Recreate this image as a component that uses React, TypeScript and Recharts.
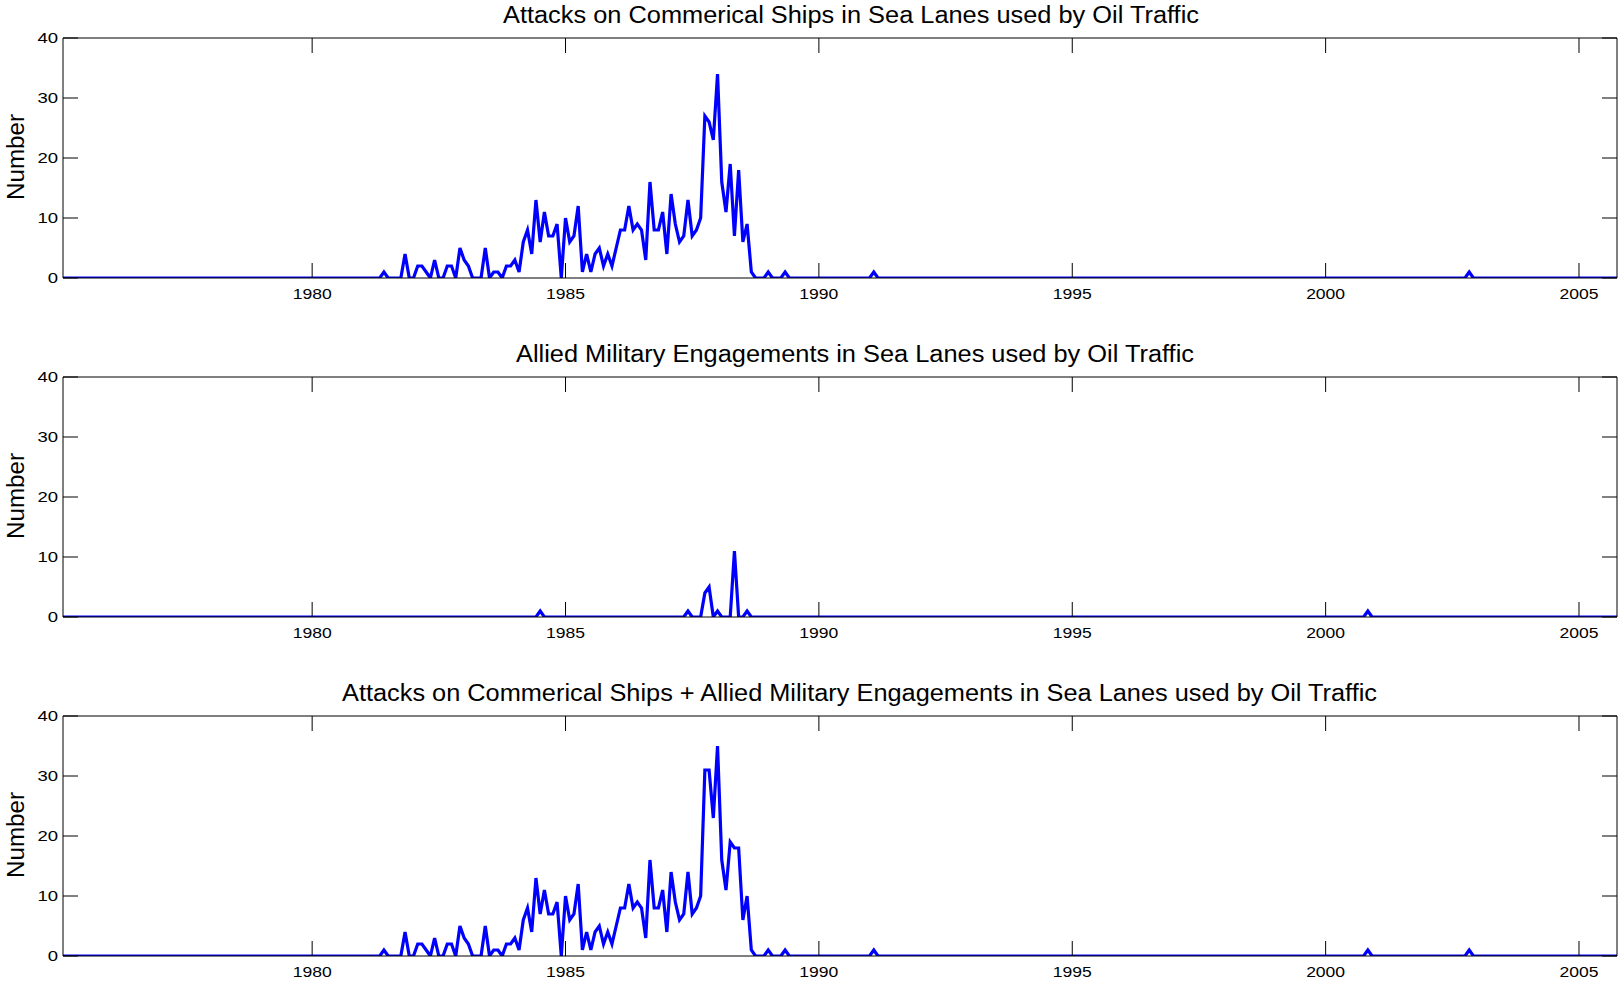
import { LineChart, Line, XAxis, YAxis } from 'recharts';

// monthly counts, Jan 1975 .. Sep 2005
const FIRST_YEAR = 1975;
const LAST_YEAR = 2005;
const LAST_MONTH = 9;

const X_TICKS = [1980, 1985, 1990, 1995, 2000, 2005];
const Y_TICKS = [0, 10, 20, 30, 40];

const attacksByYear: Record<number, number[]> = {
    1981: [0, 0, 0, 0, 1, 0, 0, 0, 0, 4, 0, 0],
    1982: [2, 2, 1, 0, 3, 0, 0, 2, 2, 0, 5, 3],
    1983: [2, 0, 0, 0, 5, 0, 1, 1, 0, 2, 2, 3],
    1984: [1, 6, 8, 4, 13, 6, 11, 7, 7, 9, 0, 10],
    1985: [6, 7, 12, 1, 4, 1, 4, 5, 2, 4, 2, 5],
    1986: [8, 8, 12, 8, 9, 8, 3, 16, 8, 8, 11, 4],
    1987: [14, 9, 6, 7, 13, 7, 8, 10, 27, 26, 23, 34],
    1988: [16, 11, 19, 7, 18, 6, 9, 1, 0, 0, 0, 1],
    1989: [0, 0, 0, 1, 0, 0, 0, 0, 0, 0, 0, 0],
};
const attacksOther: [string, number][] = [
    ['1991-01', 1],
    ['2002-10', 1],
];

const engagementsByYear: Record<number, number[]> = {};
const engagementsOther: [string, number][] = [
    ['1984-06', 1],
    ['1987-05', 1],
    ['1987-09', 4],
    ['1987-10', 5],
    ['1987-12', 1],
    ['1988-04', 11],
    ['1988-07', 1],
    ['2000-10', 1],
];

const combinedByYear: Record<number, number[]> = {
    1981: [0, 0, 0, 0, 1, 0, 0, 0, 0, 4, 0, 0],
    1982: [2, 2, 1, 0, 3, 0, 0, 2, 2, 0, 5, 3],
    1983: [2, 0, 0, 0, 5, 0, 1, 1, 0, 2, 2, 3],
    1984: [1, 6, 8, 4, 13, 7, 11, 7, 7, 9, 0, 10],
    1985: [6, 7, 12, 1, 4, 1, 4, 5, 2, 4, 2, 5],
    1986: [8, 8, 12, 8, 9, 8, 3, 16, 8, 8, 11, 4],
    1987: [14, 9, 6, 7, 14, 7, 8, 10, 31, 31, 23, 35],
    1988: [16, 11, 19, 18, 18, 6, 10, 1, 0, 0, 0, 1],
    1989: [0, 0, 0, 1, 0, 0, 0, 0, 0, 0, 0, 0],
};
const combinedOther: [string, number][] = [
    ['1991-01', 1],
    ['2000-10', 1],
    ['2002-10', 1],
];

function buildSeries(byYear: Record<number, number[]>, other: [string, number][]) {
    const extra = new Map(other);
    const rows: { x: number; value: number }[] = [];
    for (let y = FIRST_YEAR; y <= LAST_YEAR; y++) {
        const lastM = y === LAST_YEAR ? LAST_MONTH : 12;
        for (let m = 1; m <= lastM; m++) {
            const key = `${y}-${String(m).padStart(2, '0')}`;
            const v = byYear[y]?.[m - 1] ?? extra.get(key) ?? 0;
            rows.push({ x: y + m / 12, value: v });
        }
    }
    return rows;
}

const FONT = '"Liberation Sans", Arial, Helvetica, sans-serif';
const BLUE = '#0000ff';
const PLOT_H = 240;
const TICK_LEN = 15;

const panels = [
    {
        title: 'Attacks on Commerical Ships in Sea Lanes used by Oil Traffic',
        data: buildSeries(attacksByYear, attacksOther),
        plotTop: 38,
        titleX: 503,
        titleW: 696,
    },
    {
        title: 'Allied Military Engagements in Sea Lanes used by Oil Traffic',
        data: buildSeries(engagementsByYear, engagementsOther),
        plotTop: 377,
        titleX: 516,
        titleW: 678,
    },
    {
        title: 'Attacks on Commerical Ships + Allied Military Engagements in Sea Lanes used by Oil Traffic',
        data: buildSeries(combinedByYear, combinedOther),
        plotTop: 716,
        titleX: 342,
        titleW: 1035,
    },
];

const LeftTick = (props: any) => {
    const { x, y, payload } = props;
    const label = String(payload.value);
    return (
        <g>
            <line x1={x} y1={y} x2={x + TICK_LEN} y2={y} stroke="#000" />
            <text
                x={x - 5}
                y={y + 5}
                textAnchor="end"
                fontSize={14}
                fontFamily={FONT}
                fill="#000"
                textLength={label.length * 10.3}
                lengthAdjust="spacingAndGlyphs"
            >
                {label}
            </text>
        </g>
    );
};

const RightTick = (props: any) => {
    const { x, y } = props;
    return <line x1={x} y1={y} x2={x - TICK_LEN} y2={y} stroke="#000" />;
};

const BottomTick = (props: any) => {
    const { x, y, payload } = props;
    return (
        <g>
            <line x1={x} y1={y} x2={x} y2={y - TICK_LEN} stroke="#000" />
            <text
                x={x - 19.5}
                y={y + 21}
                fontSize={14.5}
                fontFamily={FONT}
                fill="#000"
                textLength={39}
                lengthAdjust="spacingAndGlyphs"
            >
                {payload.value}
            </text>
        </g>
    );
};

const TopTick = (props: any) => {
    const { x, y } = props;
    return <line x1={x} y1={y} x2={x} y2={y + TICK_LEN} stroke="#000" />;
};

const xDomain = [FIRST_YEAR + 1 / 12, LAST_YEAR + LAST_MONTH / 12];

function Panel({ data, plotTop }: { data: { x: number; value: number }[]; plotTop: number }) {
    return (
        <div style={{ position: 'absolute', left: 0, top: plotTop - 40 }}>
            <LineChart width={1620} height={PLOT_H + 80} data={data} margin={{ top: 39, right: 2, left: 3, bottom: 10 }}>
                <XAxis
                    dataKey="x"
                    type="number"
                    domain={xDomain}
                    allowDataOverflow
                    ticks={X_TICKS}
                    interval={0}
                    height={30}
                    tickSize={0}
                    tickMargin={0}
                    tick={<BottomTick />}
                    axisLine={{ stroke: '#000' }}
                />
                <XAxis
                    xAxisId="top"
                    orientation="top"
                    dataKey="x"
                    type="number"
                    domain={xDomain}
                    allowDataOverflow
                    ticks={X_TICKS}
                    interval={0}
                    height={1}
                    tickSize={0}
                    tickMargin={0}
                    tick={<TopTick />}
                    axisLine={{ stroke: '#000' }}
                />
                <YAxis
                    type="number"
                    domain={[0, 40]}
                    allowDataOverflow
                    ticks={Y_TICKS}
                    interval={0}
                    width={60}
                    tickSize={0}
                    tickMargin={0}
                    tick={<LeftTick />}
                    axisLine={{ stroke: '#000' }}
                />
                <YAxis
                    yAxisId="right"
                    orientation="right"
                    type="number"
                    domain={[0, 40]}
                    allowDataOverflow
                    ticks={Y_TICKS}
                    interval={0}
                    width={1}
                    tickSize={0}
                    tickMargin={0}
                    tick={<RightTick />}
                    axisLine={{ stroke: '#000' }}
                />
                {/* invisible twin so the top/right box axes have a series to scale */}
                <Line
                    xAxisId="top"
                    yAxisId="right"
                    type="linear"
                    dataKey="value"
                    stroke="none"
                    dot={false}
                    activeDot={false}
                    legendType="none"
                    isAnimationActive={false}
                />
                <Line
                    type="linear"
                    dataKey="value"
                    stroke={BLUE}
                    strokeWidth={3.2}
                    dot={false}
                    isAnimationActive={false}
                />
            </LineChart>
        </div>
    );
}

export default function App() {
    return (
        <div style={{ position: 'relative', width: 1620, height: 987, background: '#fff', overflow: 'hidden' }}>
            <style>{'body{margin:0}'}</style>
            {panels.map((p) => (
                <Panel key={p.title} data={p.data} plotTop={p.plotTop} />
            ))}
            <svg
                width={1620}
                height={987}
                style={{ position: 'absolute', left: 0, top: 0, pointerEvents: 'none' }}
            >
                {panels.map((p) => {
                    const cy = p.plotTop + PLOT_H / 2 - 1;
                    return (
                        <g key={p.title} fontFamily={FONT} fill="#000">
                            <text
                                x={p.titleX}
                                y={p.plotTop - 15}
                                fontSize={23}
                                textLength={p.titleW}
                                lengthAdjust="spacingAndGlyphs"
                            >
                                {p.title}
                            </text>
                            <text
                                x={24}
                                y={cy}
                                fontSize={23}
                                textAnchor="middle"
                                transform={`rotate(-90 24 ${cy})`}
                                textLength={86}
                                lengthAdjust="spacingAndGlyphs"
                            >
                                Number
                            </text>
                        </g>
                    );
                })}
            </svg>
        </div>
    );
}
